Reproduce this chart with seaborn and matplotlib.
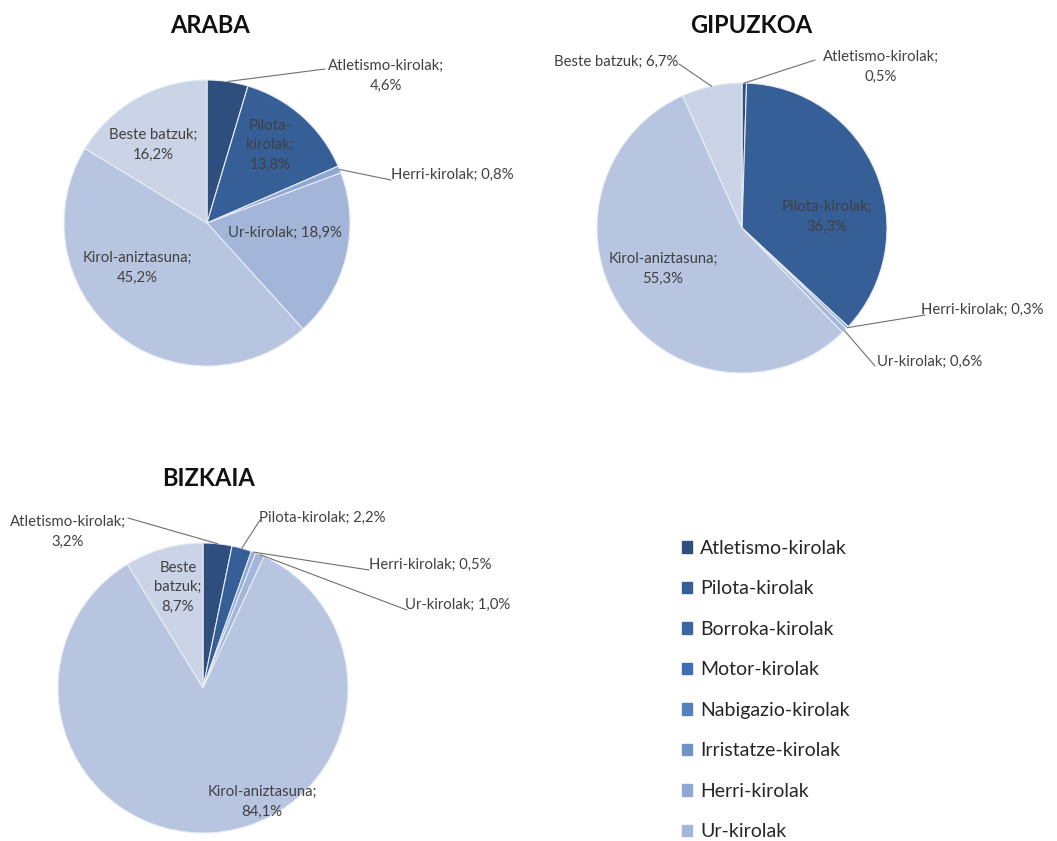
import numpy as np
import seaborn as sns
import matplotlib.pyplot as plt
import matplotlib.patches as mpatches

# --- data ---------------------------------------------------------------
categories = ['Atletismo-kirolak', 'Pilota-kirolak', 'Borroka-kirolak', 'Motor-kirolak',
              'Nabigazio-kirolak', 'Irristatze-kirolak', 'Herri-kirolak', 'Ur-kirolak',
              'Kirol-aniztasuna', 'Beste batzuk']
araba = [4.6, 13.8, 0, 0, 0, 0, 0.8, 18.9, 45.2, 16.2]
gipuzkoa = [0.5, 36.3, 0, 0, 0, 0, 0.3, 0.6, 55.3, 6.7]
bizkaia = [3.2, 2.2, 0, 0, 0, 0, 0.5, 1.0, 84.1, 8.7]
legend_items = categories[:8]

colors = ['#2e4f7e', '#365f97', '#3a66a6', '#406eb2', '#5480bd', '#7094c8',
          '#8fa8d3', '#a3b6da', '#b8c5e1', '#cbd4e7']

W, H = 1057, 841
TXT = '#404040'


def px(x, y):
    # picture pixel coords -> data coords (y up)
    return x, H - y


def fmt(v):
    return f'{v:.1f}%'.replace('.', ',')


# label layout per pie: category -> (text pos, text template, leader end or None)
araba_lab = {
    'Atletismo-kirolak': ((386, 76), '{n};\n{v}', (325, 69)),
    'Pilota-kirolak': ((270, 145), 'Pilota-\nkirolak;\n{v}', None),
    'Herri-kirolak': ((452, 175), '{n}; {v}', (391, 180)),
    'Ur-kirolak': ((285, 233), '{n}; {v}', None),
    'Kirol-aniztasuna': ((137, 268), '{n};\n{v}', None),
    'Beste batzuk': ((153, 145), '{n};\n{v}', None),
}
gipuzkoa_lab = {
    'Atletismo-kirolak': ((881, 67), '{n};\n{v}', (815, 60)),
    'Pilota-kirolak': ((827, 217), '{n};\n{v}', None),
    'Herri-kirolak': ((982, 310), '{n}; {v}', (925, 315)),
    'Ur-kirolak': ((930, 362), '{n}; {v}', (875, 366)),
    'Kirol-aniztasuna': ((663, 269), '{n};\n{v}', None),
    'Beste batzuk': ((616, 62), '{n}; {v}', (679, 64)),
}
bizkaia_lab = {
    'Atletismo-kirolak': ((68, 532), '{n};\n{v}', (128, 518)),
    'Pilota-kirolak': ((322, 518), '{n}; {v}', (260, 520)),
    'Herri-kirolak': ((430, 565), '{n}; {v}', (369, 570)),
    'Ur-kirolak': ((458, 605), '{n}; {v}', (407, 610)),
    'Kirol-aniztasuna': ((262, 802), '{n};\n{v}', None),
    'Beste batzuk': ((178, 587), 'Beste\nbatzuk;\n{v}', None),
}

pies = [
    ('ARABA', araba, (207, 223), 143, (210, 25), araba_lab),
    ('GIPUZKOA', gipuzkoa, (742, 228), 145, (751, 25), gipuzkoa_lab),
    ('BIZKAIA', bizkaia, (203, 688), 145, (208, 478), bizkaia_lab),
]

sns.set_theme(style='white')
plt.rcParams['font.family'] = ['Lato', 'DejaVu Sans']

fig = plt.figure(figsize=(W / 100, H / 100), dpi=100)
ax = fig.add_axes([0, 0, 1, 1])

for title, vals, c, r, tpos, labs in pies:
    keep = [i for i, v in enumerate(vals) if v > 0]
    wedges, _ = ax.pie([vals[i] for i in keep], colors=[colors[i] for i in keep],
                       startangle=90, counterclock=False, center=px(*c), radius=r,
                       wedgeprops=dict(edgecolor='#e8ecf4', linewidth=0.8))
    ax.text(*px(*tpos), title, ha='center', va='center', fontsize=17,
            fontweight='bold', color='#111111')
    for w, i in zip(wedges, keep):
        name = categories[i]
        pos, tmpl, end = labs[name]
        ax.text(*px(*pos), tmpl.format(n=name, v=fmt(vals[i])), ha='center',
                va='center', fontsize=10.7, color=TXT, multialignment='center',
                linespacing=1.5)
        if end is not None:
            mid = np.deg2rad((w.theta1 + w.theta2) / 2)
            cx, cy = px(*c)
            sx, sy = cx + r * np.cos(mid), cy + r * np.sin(mid)
            ex, ey = px(*end)
            ax.plot([sx, ex], [sy, ey], color='#707070', lw=0.8)

handles = [mpatches.Patch(color=colors[i], label=n) for i, n in enumerate(legend_items)]
ax.legend(handles=handles, loc='upper left', bbox_to_anchor=(672 / W, 1 - 530 / H),
          bbox_transform=fig.transFigure, frameon=False, fontsize=14,
          handlelength=0.55, handleheight=0.55, handletextpad=0.4,
          labelspacing=1.21, borderpad=0, labelcolor='#262626')

ax.set_xlim(0, W)
ax.set_ylim(0, H)
ax.axis('off')
fig.savefig('out.png', dpi=100, facecolor='white')
